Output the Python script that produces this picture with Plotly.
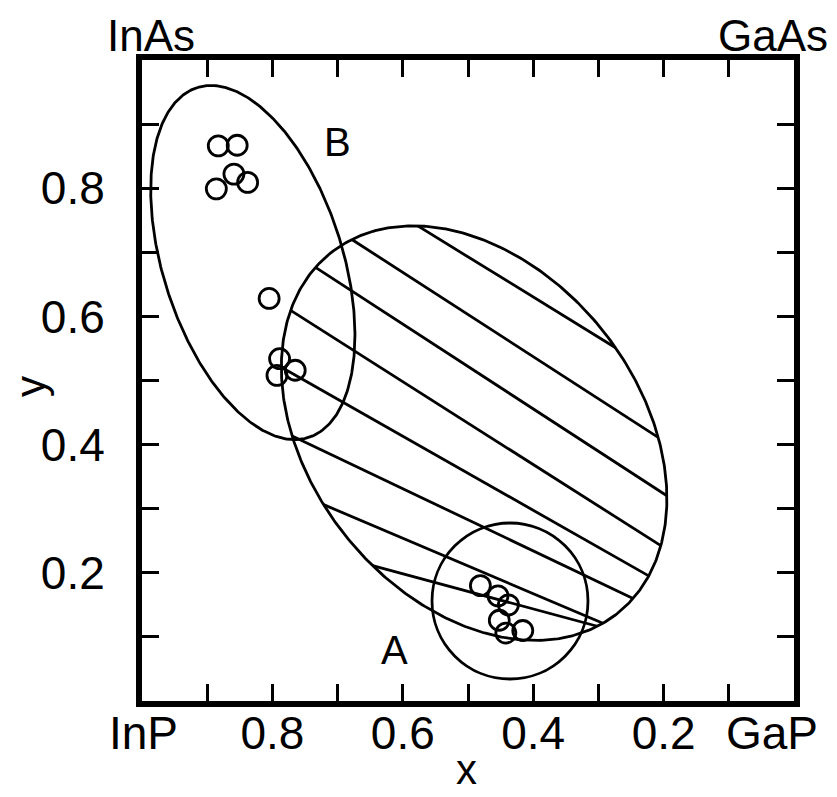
import numpy as np
import plotly.graph_objects as go

# ---------------- data ----------------
# open-circle samples (x = InP fraction, y = As fraction)
group_b_x = [0.883, 0.854, 0.886, 0.859, 0.838, 0.805, 0.789, 0.793, 0.765]
group_b_y = [0.866, 0.867, 0.799, 0.822, 0.809, 0.628, 0.534, 0.508, 0.516]
group_a_x = [0.481, 0.454, 0.438, 0.452, 0.442, 0.416]
group_a_y = [0.180, 0.164, 0.150, 0.126, 0.106, 0.110]

# region outlines (ellipses, data units): A = hatched, B = open
region_names = ["A", "B"]
region_cx = [0.4906, 0.830]
region_cy = [0.4179, 0.684]
region_a = [0.357, 0.286]
region_b = [0.254, 0.138]
region_angle = [52.9, 72.8]

# small circle around the A-group samples
circle_cx = 0.4356
circle_cy = 0.156
circle_rx = 0.1196
circle_ry = 0.1217

# hatching inside region A: lines y = slope * x + intercept
hatch_slope = [0.6262, 0.6569, 0.6609, 0.6465, 0.5776, 0.4846, 0.4320, 0.2742]
hatch_icpt = [0.3798, 0.2745, 0.1914, 0.1103, 0.0665, 0.0404, -0.0053, 0.0339]

# region labels
label_text = ["A", "B"]
label_x = [0.612, 0.700]
label_y = [0.080, 0.872]

# ticks
tick_vals = [round(0.1 * i, 1) for i in range(11)]
x_tick_text = ["", "", "0.2", "", "0.4", "", "0.6", "", "0.8", "", ""]
y_tick_text = ["", "", "0.2", "", "0.4", "", "0.6", "", "0.8", "", ""]

# corner compound labels (paper coordinates)
corner_text = ["InP", "GaP", "InAs", "GaAs"]
corner_px = [-0.054, 1.040, -0.057, 1.055]
corner_py = [-0.050, -0.050, 1.0795, 1.0795]
corner_xanchor = ["left", "right", "left", "right"]
corner_yanchor = ["middle", "middle", "top", "top"]
corner_size = [46, 46, 44, 44]

# axis titles (paper coordinates)
axis_title_text = ["x", "y"]
axis_title_px = [0.497, -0.170]
axis_title_py = [-0.1466, 0.49]
axis_title_yanchor = ["bottom", "middle"]
axis_title_angle = [0, -90]

FONT = "Liberation Sans, Arial, sans-serif"
LW = 2.8


def ellipse_xy(cx, cy, a, b, ang, n=500):
    t = np.linspace(0, 2 * np.pi, n)
    th = np.deg2rad(ang)
    x = cx + a * np.cos(t) * np.cos(th) - b * np.sin(t) * np.sin(th)
    y = cy + a * np.cos(t) * np.sin(th) + b * np.sin(t) * np.cos(th)
    return x, y


def chord(m, c, cx, cy, a, b, ang):
    th = np.deg2rad(ang)
    ct, st = np.cos(th), np.sin(th)
    p1, p0 = ct + m * st, (c - cy) * st - cx * ct
    q1, q0 = -st + m * ct, (c - cy) * ct + cx * st
    A = p1 ** 2 / a ** 2 + q1 ** 2 / b ** 2
    B = 2 * (p1 * p0 / a ** 2 + q1 * q0 / b ** 2)
    C = p0 ** 2 / a ** 2 + q0 ** 2 / b ** 2 - 1
    disc = B * B - 4 * A * C
    if disc <= 0:
        return None
    r = np.sqrt(disc)
    s1 = (-B - r) / (2 * A)
    s2 = (-B + r) / (2 * A)
    return [s1, s2], [m * s1 + c, m * s2 + c]


fig = go.Figure()

# hatch lines in region A
hx, hy = [], []
for m, c in zip(hatch_slope, hatch_icpt):
    res = chord(m, c, region_cx[0], region_cy[0], region_a[0], region_b[0], region_angle[0])
    if res is None:
        continue
    hx += res[0] + [None]
    hy += res[1] + [None]
fig.add_trace(go.Scatter(x=hx, y=hy, mode="lines", line=dict(color="black", width=LW),
                         hoverinfo="skip"))

# region outlines
for i, name in enumerate(region_names):
    ex, ey = ellipse_xy(region_cx[i], region_cy[i], region_a[i], region_b[i], region_angle[i])
    fig.add_trace(go.Scatter(x=ex, y=ey, mode="lines", name=name,
                             line=dict(color="black", width=LW), hoverinfo="skip"))

# small circle
fig.add_shape(type="circle", xref="x", yref="y",
              x0=circle_cx - circle_rx, x1=circle_cx + circle_rx,
              y0=circle_cy - circle_ry, y1=circle_cy + circle_ry,
              line=dict(color="black", width=LW))

# samples
for gx, gy in [(group_b_x, group_b_y), (group_a_x, group_a_y)]:
    fig.add_trace(go.Scatter(x=gx, y=gy, mode="markers",
                             marker=dict(symbol="circle-open", size=20, color="black",
                                         line=dict(width=2.8))))

# region labels
for t, x, y in zip(label_text, label_x, label_y):
    fig.add_annotation(x=x, y=y, xref="x", yref="y", text=t, showarrow=False,
                       font=dict(family=FONT, size=40, color="black"))

# corner labels
for t, x, y, xa, ya, s in zip(corner_text, corner_px, corner_py,
                              corner_xanchor, corner_yanchor, corner_size):
    fig.add_annotation(x=x, y=y, xref="paper", yref="paper", text=t, showarrow=False,
                       xanchor=xa, yanchor=ya,
                       font=dict(family=FONT, size=s, color="black"))

# axis titles
for t, x, y, ya, a in zip(axis_title_text, axis_title_px, axis_title_py,
                          axis_title_yanchor, axis_title_angle):
    fig.add_annotation(x=x, y=y, xref="paper", yref="paper", text=t, showarrow=False,
                       xanchor="center", yanchor=ya, textangle=a,
                       font=dict(family=FONT, size=42, color="black"))

axis_common = dict(
    tickvals=tick_vals, ticks="inside", ticklen=17, tickwidth=2.5, tickcolor="black",
    showline=True, linewidth=6, linecolor="black", mirror="allticks",
    showgrid=False, zeroline=False, automargin=False,
    tickfont=dict(family=FONT, size=46, color="black"),
)

fig.update_xaxes(range=[1, 0], ticktext=x_tick_text, ticklabelstandoff=-13, **axis_common)
fig.update_yaxes(range=[0, 1], ticktext=y_tick_text, ticklabelstandoff=22, **axis_common)

fig.update_layout(
    width=829, height=789,
    margin=dict(l=134, r=43, t=52, b=96),
    plot_bgcolor="white", paper_bgcolor="white",
    showlegend=False,
    font=dict(family=FONT, size=46, color="black"),
)

fig.write_html("out.html")
